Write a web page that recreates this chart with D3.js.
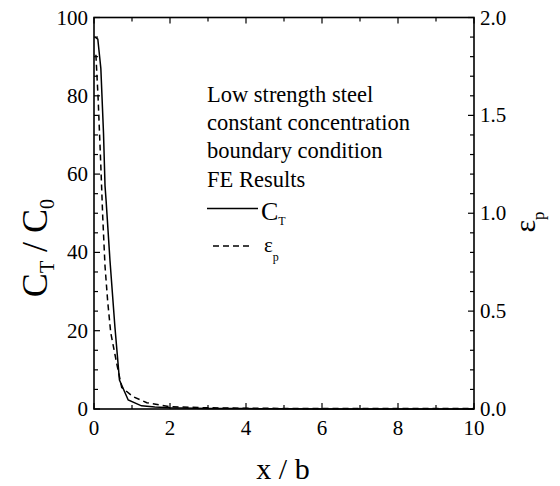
<!DOCTYPE html>
<html>
<head>
<meta charset="utf-8">
<script src="https://cdn.jsdelivr.net/npm/d3@7"></script>
<style>
  body { margin: 0; background: #fff; }
</style>
</head>
<body>
<svg id="chart" width="560" height="486"></svg>
<script>
// FE results: normalised trapped concentration and plastic strain vs x/b
const ctX = [0.03, 0.1, 0.18, 0.25, 0.29, 0.32, 0.42, 0.55, 0.67, 0.9, 1.25, 1.6, 2, 3, 4, 5, 6, 7, 8, 9, 10]
const ctY = [95, 94.5, 87, 70.5, 57, 53, 38, 21, 7.4, 2.3, 0.8, 0.5, 0.3, 0.15, 0.1, 0.05, 0.03, 0.02, 0.02, 0.02, 0.02]

const epX = [0.05, 0.11, 0.18, 0.23, 0.29, 0.36, 0.44, 0.6, 0.73, 1.03, 1.39, 2, 3, 4, 5, 6, 7, 8, 9, 10]
const epY = [1.81, 1.58, 1.24, 0.98, 0.73, 0.55, 0.39, 0.23, 0.11, 0.063, 0.032, 0.012, 0.006, 0.004, 0.003, 0.002, 0.002, 0.002, 0.002, 0.002]

const xTicks = [0, 2, 4, 6, 8, 10]
const yLeftTicks = [0, 20, 40, 60, 80, 100]
const yRightTicks = [0, 0.5, 1.0, 1.5, 2.0]

const legendLines = ['Low strength steel', 'constant concentration', 'boundary condition', 'FE Results']

const FONT = 'Liberation Serif'
const svg = d3.select('#chart')
const L = 94, R = 474, T = 17.5, B = 409

const x = d3.scaleLinear().domain([0, 10]).range([L, R])
const yL = d3.scaleLinear().domain([0, 100]).range([B, T])
const yR = d3.scaleLinear().domain([0, 2]).range([B, T])

const tickFont = '21px'

function txt(sel) {
  return sel.append('text').attr('font-family', FONT).attr('fill', '#000')
}

// frame
svg.append('rect')
  .attr('x', L).attr('y', T).attr('width', R - L).attr('height', B - T)
  .attr('fill', 'none').attr('stroke', '#000').attr('stroke-width', 1.6)

// ticks, all pointing inward
const g = svg.append('g').attr('stroke', '#000').attr('stroke-width', 1.2)

d3.range(0, 10.001, 1).forEach(v => {
  const len = v % 2 === 0 ? 6 : 4
  g.append('line').attr('x1', x(v)).attr('x2', x(v)).attr('y1', B).attr('y2', B - len)
  g.append('line').attr('x1', x(v)).attr('x2', x(v)).attr('y1', T).attr('y2', T + len)
})
d3.range(0, 100.001, 5).forEach(v => {
  const len = v % 20 === 0 ? 6 : 4
  g.append('line').attr('x1', L).attr('x2', L + len).attr('y1', yL(v)).attr('y2', yL(v))
})
d3.range(0, 20.001, 1).forEach(i => {
  const v = i / 10
  const len = i % 5 === 0 ? 6 : 4
  g.append('line').attr('x1', R).attr('x2', R - len).attr('y1', yR(v)).attr('y2', yR(v))
})

// tick labels
xTicks.forEach(d => {
  txt(svg).attr('x', x(d)).attr('y', 435)
    .attr('text-anchor', 'middle').style('font-size', tickFont).text(d)
})
yLeftTicks.forEach(d => {
  txt(svg).attr('x', 88).attr('y', yL(d) + 7)
    .attr('text-anchor', 'end').style('font-size', tickFont).text(d)
})
yRightTicks.forEach(d => {
  txt(svg).attr('x', 480).attr('y', yR(d) + 7)
    .attr('text-anchor', 'start').style('font-size', tickFont).text(d3.format('.1f')(d))
})

// axis titles
txt(svg).attr('x', 283).attr('y', 479)
  .attr('text-anchor', 'middle').style('font-size', '30px')
  .text('x / b')

const lt = txt(svg)
  .attr('transform', 'translate(47,248) rotate(-90)')
  .attr('text-anchor', 'middle').style('font-size', '36px')
lt.append('tspan').text('C')
lt.append('tspan').attr('dy', 7).style('font-size', '20px').text('T')
lt.append('tspan').attr('dy', -7).text(' / C')
lt.append('tspan').attr('dy', 7).style('font-size', '20px').text('0')

const rt = txt(svg)
  .attr('transform', 'translate(535,222) rotate(-90)')
  .attr('text-anchor', 'middle').style('font-size', '30px')
rt.append('tspan').text('ε')
rt.append('tspan').attr('dy', 9).style('font-size', '17px').text('p')

// curves
const lineCT = d3.line().x((d, i) => x(ctX[i])).y(d => yL(d))
const lineEP = d3.line().x((d, i) => x(epX[i])).y(d => yR(d))

svg.append('path').datum(ctY)
  .attr('d', lineCT).attr('fill', 'none')
  .attr('stroke', '#000').attr('stroke-width', 1.5)
svg.append('path').datum(epY)
  .attr('d', lineEP).attr('fill', 'none')
  .attr('stroke', '#000').attr('stroke-width', 1.5)
  .attr('stroke-dasharray', '6,4')

// legend / annotation
legendLines.forEach((s, i) => {
  txt(svg).attr('x', 207).attr('y', 102 + i * 28.2)
    .style('font-size', '22.5px').text(s)
})
svg.append('line').attr('x1', 207).attr('x2', 258).attr('y1', 208.5).attr('y2', 208.5)
  .attr('stroke', '#000').attr('stroke-width', 1.5)
const l1 = txt(svg).attr('x', 261).attr('y', 220).style('font-size', '26px')
l1.append('tspan').text('C')
l1.append('tspan').attr('dy', 5).style('font-size', '12px').text('T')

svg.append('line').attr('x1', 213).attr('x2', 253).attr('y1', 246).attr('y2', 246)
  .attr('stroke', '#000').attr('stroke-width', 1.5).attr('stroke-dasharray', '6,4')
const l2 = txt(svg).attr('x', 264).attr('y', 252).style('font-size', '21px')
l2.append('tspan').text('ε')
l2.append('tspan').attr('dy', 9).style('font-size', '12px').text('p')
</script>
</body>
</html>
